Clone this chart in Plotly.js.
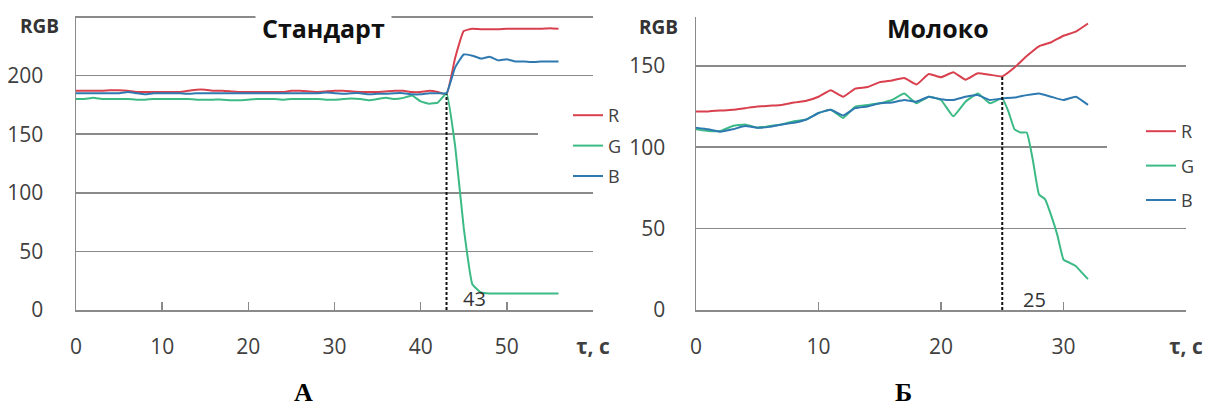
<!DOCTYPE html>
<html>
<head>
<meta charset="utf-8">
<script src="https://cdn.plot.ly/plotly-3.0.1.min.js"></script>
<style>html,body{margin:0;padding:0;background:#fff;}#chart{width:1209px;height:408px;}</style>
</head>
<body>
<div id="chart"></div>
<script>
// ---- Chart A: "Стандарт" ----
const timeA = [0,1,2,3,4,5,6,7,8,9,10,11,12,13,14,15,16,17,18,19,20,21,22,23,24,25,26,27,28,29,30,31,32,33,34,35,36,37,38,39,40,41,42,43,44,45,46,47,48,49,50,51,52,53,54,55,56];
const redA = [187,187,187,187,187.5,187.5,187,186,186,186,186,186,186,187,188,188,187,187,186.5,186,186,186,186,186,186,187,187,186.5,186,186.5,187,187,186.5,186,186,186,186.5,187,187,186,186,187,186,
              184,215,238,240,239.5,239.5,239.5,240,240,240,240,240,240.5,240];
const greenA = [180,180,181,180,180,180,180,179.5,179.5,180,180,180,180,180,179.5,179.5,179.5,179.5,179,179,179.5,180,180,180,179.5,180,180,180,180,179.5,179.5,180,180.5,180,179,180,181,180,
                181,183,178,176,177,185,140,70,22,15,14,14,14,14,14,14,14,14,14];
const blueA = [185,185,185,185,185,185,186,185,184,185,185,185,185,184.5,185,185,185,185,185,185,185,185,185,185,185,185,185,185,185,185.5,185,184.5,185,185,184,184.5,184.5,185,185,184,184,185,185,
               185,207,218,217,214.5,216,213,214,212,212,211.5,212,212,212];
const markA = 43;

// ---- Chart Б: "Молоко" ----
const timeB = [0,1,2,3,4,5,6,7,8,9,10,11,12,13,14,15,16,17,18,19,20,21,22,23,24,25,26,27,28,29,30,31,32];
const redB = [122,122,122.5,123,124,125,125.5,126,127.5,128.5,131,135,131,136,137,140,141,142.5,138.5,145,143,146,141.5,145.5,144.5,143.5,149,156,162,164.5,168.5,171,176];
const blueB = [112,111,109.5,111,113,112,112.5,114,115,117,121,123,119.5,124,125,127,127.5,129,128,131,129.5,129,131,132,129,130,130.5,132,133,131,129,131,126];
const timeBG = [0,1,2,3,4,5,6,7,8,9,10,11,12,13,14,15,16,17,18,19,20,21,22,23,24,25,25.5,26,26.5,27,27.5,28,28.5,29,29.5,30,30.5,31,31.5,32];
const greenB = [111,110,110,113,114,112,113,114,116,117,121,123,118,125,126,127,129,133,127,131,129,119,128,133,127,130,
                122,111,109,109,92,71,68,58,46,31,29,27,23,19];
const markB = 25;

// ---- tick labels / texts ----
const xTicksA = [0,10,20,30,40,50,60];
const xTextA = ['0','10','20','30','40','50','<b>τ, с</b>'];
const yTicksA = [0,50,100,150,200,250];
const yTextA = ['0','50','100','150','200',''];
const xTicksB = [0,10,20,30,40];
const xTextB = ['0','10','20','30','<b>τ, с</b>'];
const yTicksB = [0,50,100,150];
const yTextB = ['0','50','100','150'];
const seriesNames = ['R','G','B'];
const titleA = 'Стандарт', titleB = 'Молоко', yLabel = 'RGB', panelA = 'А', panelB = 'Б';

const COL = {R:'#d9404e', G:'#3cba86', B:'#2f79b1'};
const FONT = 'Open Sans, DejaVu Sans, sans-serif';
const W = 1209, H = 408;
const px = v => v / W, py = v => 1 - v / H;

const lineW = 2;
const sm = {width:lineW, shape:'spline', smoothing:0.35};
const traces = [
  {x: timeA, y: redA,   name: seriesNames[0], legendgroup:'aR', line:Object.assign({color:COL.R}, sm), xaxis:'x', yaxis:'y', legend:'legend'},
  {x: timeA, y: greenA, name: seriesNames[1], legendgroup:'aG', line:Object.assign({color:COL.G}, sm), xaxis:'x', yaxis:'y', legend:'legend'},
  {x: timeA, y: blueA,  name: seriesNames[2], legendgroup:'aB', line:Object.assign({color:COL.B}, sm), xaxis:'x', yaxis:'y', legend:'legend'},
  {x: [markA, markA], y: [0, redA[timeA.indexOf(markA)]], showlegend:false, line:{color:'#111',width:2,dash:'3px,2px'}, xaxis:'x', yaxis:'y'},
  {x: timeB, y: redB,   name: seriesNames[0], legendgroup:'bR', line:Object.assign({color:COL.R}, sm), xaxis:'x2', yaxis:'y2', legend:'legend2'},
  {x: timeBG, y: greenB, name: seriesNames[1], legendgroup:'bG', line:Object.assign({color:COL.G}, sm), xaxis:'x2', yaxis:'y2', legend:'legend2'},
  {x: timeB, y: blueB,  name: seriesNames[2], legendgroup:'bB', line:Object.assign({color:COL.B}, sm), xaxis:'x2', yaxis:'y2', legend:'legend2'},
  {x: [markB, markB], y: [0, redB[timeB.indexOf(markB)]], showlegend:false, line:{color:'#111',width:2,dash:'3px,2px'}, xaxis:'x2', yaxis:'y2'}
].map(t => Object.assign({type:'scatter', mode:'lines', hoverinfo:'skip'}, t));

const axisCommon = {
  showline:true, linecolor:'#8a8a8a', linewidth:1.5, zeroline:false,
  tickfont:{family:FONT, size:21, color:'#404040'}, fixedrange:true
};
// left: 0..251 so that the 250 gridline is drawn just inside the top edge
const yDomainA = [1 - 310/H, 1 - (310 - 251*293/250)/H];
const yDomainB = [1 - 310/H, 1 - 17/H];

const layout = {
  width:W, height:H, margin:{l:0,r:0,t:0,b:0},
  paper_bgcolor:'#fff', plot_bgcolor:'#fff', font:{family:FONT, color:'#404040'},
  xaxis: Object.assign({}, axisCommon, {domain:[px(76), px(593)], range:[0,60], tickmode:'array', tickvals:xTicksA, ticktext:xTextA,
    ticks:'inside', ticklen:8, tickwidth:1.5, tickcolor:'#8a8a8a', showgrid:false, ticklabelstandoff:17, anchor:'y'}),
  yaxis: Object.assign({}, axisCommon, {domain:yDomainA, range:[0,251], tickmode:'array', tickvals:yTicksA, ticktext:yTextA,
    ticks:'', showgrid:true, gridcolor:'#8a8a8a', gridwidth:1.5, ticklabelstandoff:27, anchor:'x'}),
  xaxis2: Object.assign({}, axisCommon, {domain:[px(696), px(1186)], range:[0,40], tickmode:'array', tickvals:xTicksB, ticktext:xTextB,
    ticks:'inside', ticklen:8, tickwidth:1.5, tickcolor:'#8a8a8a', showgrid:false, ticklabelstandoff:17, anchor:'y2'}),
  yaxis2: Object.assign({}, axisCommon, {domain:yDomainB, range:[0,180], tickmode:'array', tickvals:yTicksB, ticktext:yTextB,
    ticks:'', showgrid:true, gridcolor:'#8a8a8a', gridwidth:1.5, ticklabelstandoff:25, anchor:'x2'}),
  legend: {x:px(568), y:py(97), xanchor:'left', yanchor:'top', bgcolor:'rgba(0,0,0,0)', borderwidth:0,
    font:{family:FONT, size:18, color:'#404040'}, traceorder:'grouped', tracegroupgap:4},
  legend2: {x:px(1141), y:py(113), xanchor:'left', yanchor:'top', bgcolor:'rgba(0,0,0,0)', borderwidth:0,
    font:{family:FONT, size:18, color:'#404040'}, traceorder:'grouped', tracegroupgap:8},
  // white patches behind the legends, interrupting the gridlines as in the original
  shapes: [
    {type:'rect', xref:'paper', yref:'paper', x0:px(538), x1:px(600), y0:py(100), y1:py(185), fillcolor:'#fff', line:{width:0}, layer:'above'},
    {type:'rect', xref:'paper', yref:'paper', x0:px(1107), x1:px(1190), y0:py(115), y1:py(215), fillcolor:'#fff', line:{width:0}, layer:'above'}
  ],
  annotations: [
    {xref:'paper', yref:'paper', x:px(324), y:py(28), text:'<b>'+titleA+'</b>', showarrow:false, xanchor:'center', yanchor:'middle',
      font:{family:FONT, size:25, color:'#111'}, bgcolor:'#fff', borderpad:6},
    {xref:'paper', yref:'paper', x:px(938), y:py(28), text:'<b>'+titleB+'</b>', showarrow:false, xanchor:'center', yanchor:'middle',
      font:{family:FONT, size:25, color:'#111'}},
    {xref:'paper', yref:'paper', x:px(39), y:py(26), text:'<b>'+yLabel+'</b>', showarrow:false, xanchor:'center', yanchor:'middle',
      font:{family:FONT, size:19, color:'#333'}},
    {xref:'paper', yref:'paper', x:px(658), y:py(27), text:'<b>'+yLabel+'</b>', showarrow:false, xanchor:'center', yanchor:'middle',
      font:{family:FONT, size:19, color:'#333'}},
    {xref:'x', yref:'y', x:markA, y:0, text:String(markA), showarrow:false, xanchor:'left', yanchor:'middle', xshift:14, yshift:11,
      font:{family:FONT, size:20, color:'#333'}},
    {xref:'x2', yref:'y2', x:markB, y:0, text:String(markB), showarrow:false, xanchor:'left', yanchor:'middle', xshift:19, yshift:11,
      font:{family:FONT, size:20, color:'#333'}},
    {xref:'paper', yref:'paper', x:px(303), y:py(392), text:'<b>'+panelA+'</b>', showarrow:false, xanchor:'center', yanchor:'middle',
      font:{family:'Liberation Serif, Times New Roman, serif', size:26, color:'#000'}},
    {xref:'paper', yref:'paper', x:px(903), y:py(392), text:'<b>'+panelB+'</b>', showarrow:false, xanchor:'center', yanchor:'middle',
      font:{family:'Liberation Serif, Times New Roman, serif', size:26, color:'#000'}}
  ]
};

Plotly.newPlot('chart', traces, layout, {staticPlot:true, displayModeBar:false});
</script>
</body>
</html>
